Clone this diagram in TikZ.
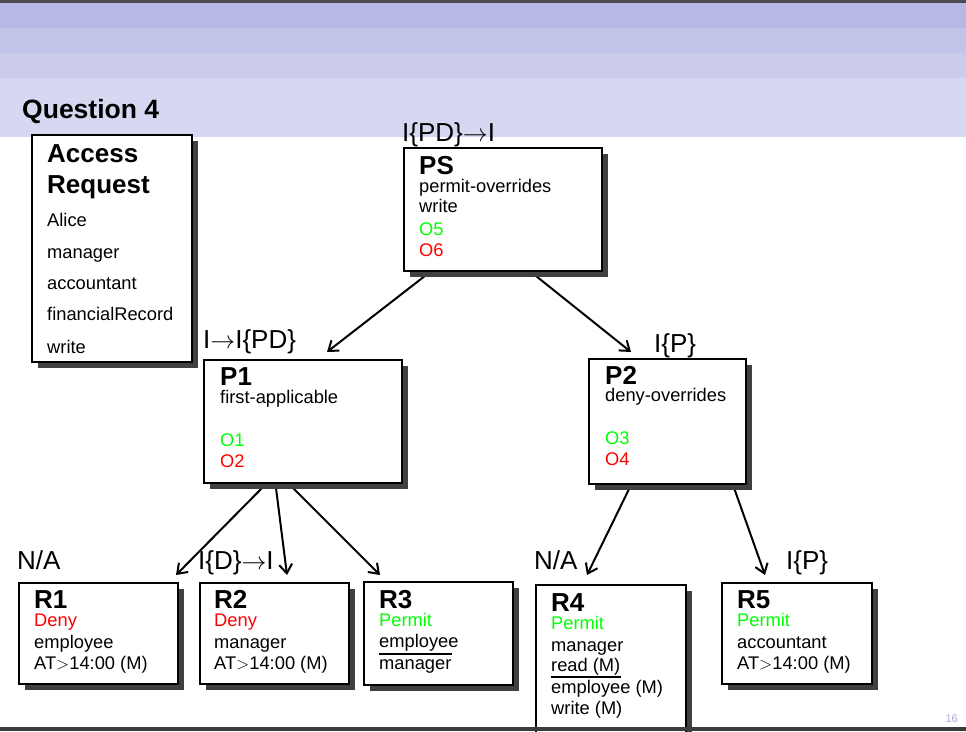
\documentclass[tikz,border=0pt]{standalone}
\usepackage{fontspec}
\setmainfont{Liberation Sans}
\usetikzlibrary{arrows.meta,shadows}
\definecolor{topbar}{HTML}{4A4A50}
\definecolor{botbar}{HTML}{3C3C3C}
\definecolor{bandA}{HTML}{B7B8E5}
\definecolor{bandB}{HTML}{C3C4E9}
\definecolor{bandC}{HTML}{CBCCEC}
\definecolor{bandD}{HTML}{D6D7F1}
\definecolor{shadowgray}{HTML}{404040}
\definecolor{okgreen}{HTML}{00FF00}
\definecolor{badred}{HTML}{FF0000}
\definecolor{pagenum}{HTML}{A8A8E0}
\pgfdeclarelayer{back}
\pgfdeclarelayer{arrows}
\pgfdeclarelayer{front}
\pgfsetlayers{back,arrows,main,front}
\begin{document}
\begin{tikzpicture}[x=1pt,y=-1pt,
  box/.style={draw=black, line width=2pt, fill=white, anchor=north west, inner sep=0pt,
    drop shadow={shadow xshift=6pt, shadow yshift=-6pt, fill=shadowgray, opacity=1}},
  txt/.style={anchor=base west, inner sep=0pt, font=\fontsize{18.3}{22}\selectfont},
  hd/.style={anchor=base west, inner sep=0pt, font=\fontsize{26}{30}\selectfont\bfseries},
  lbl/.style={anchor=base west, inner sep=0pt, font=\fontsize{26}{30}\selectfont},
  arr/.style={line width=2pt, -{Straight Barb[length=9pt,width=13pt]}},
  sepline/.style={line width=1.8pt}]
\useasboundingbox (0,0) rectangle (966,731);
\begin{pgfonlayer}{back}
\fill[white] (0,0) rectangle (966,731);
\fill[topbar] (0,0) rectangle (966,3);
\fill[bandA] (0,3) rectangle (966,28);
\fill[bandB] (0,28) rectangle (966,53);
\fill[bandC] (0,53) rectangle (966,78);
\fill[bandD] (0,78) rectangle (966,137);
\end{pgfonlayer}

\node[hd, font=\fontsize{26.5}{30}\selectfont\bfseries] (title) at (22,118) {Question 4};

% Access request
\node[box, minimum width=160pt, minimum height=227pt] (AR) at (31,134) {};
\node[hd] (AR1) at (47,162) {Access};
\node[hd] (AR2) at (47,193) {Request};
\node[txt] (AR3) at (47,226) {Alice};
\node[txt] (AR4) at (47,258) {manager};
\node[txt] (AR5) at (47,289) {accountant};
\node[txt] (AR6) at (47,320) {financialRecord};
\node[txt] (AR7) at (47,353) {write};

% PS
\node[box, minimum width=198pt, minimum height=123pt] (PS) at (403,147) {};
\node[lbl] (PSl) at (402,141) {I\{PD\}$\rightarrow$I};
\node[hd] (PS1) at (419,174) {PS};
\node[txt] (PS2) at (419,192) {permit-overrides};
\node[txt] (PS3) at (419,212) {write};
\node[txt, text=okgreen] (PS4) at (419,235) {O5};
\node[txt, text=badred] (PS5) at (419,256) {O6};

% P1
\node[box, minimum width=198pt, minimum height=123pt] (P1) at (203,359) {};
\node[lbl] (P1l) at (203,348) {I$\rightarrow$I\{PD\}};
\node[hd] (P11) at (220,385) {P1};
\node[txt] (P12) at (220,403) {first-applicable};
\node[txt, text=okgreen] (P13) at (220,446) {O1};
\node[txt, text=badred] (P14) at (220,467) {O2};

% P2
\node[box, minimum width=157pt, minimum height=125pt] (P2) at (588,358) {};
\node[lbl] (P2l) at (654,352) {I\{P\}};
\node[hd] (P21) at (605,384) {P2};
\node[txt] (P22) at (605,401) {deny-overrides};
\node[txt, text=okgreen] (P23) at (605,444) {O3};
\node[txt, text=badred] (P24) at (605,465) {O4};

% R1
\node[box, minimum width=159pt, minimum height=101pt] (R1) at (18,582) {};
\node[lbl] (R1l) at (17,569) {N/A};
\node[hd] (R11) at (34,608) {R1};
\node[txt, text=badred] (R12) at (34,626) {Deny};
\node[txt] (R13) at (34,648) {employee};
\node[txt] (R14) at (34,669) {AT$>$14:00 (M)};

% R2
\node[box, minimum width=149pt, minimum height=101pt] (R2) at (199,582) {};
\node[lbl] (R2l) at (198,569) {I\{D\}$\rightarrow$I};
\node[hd] (R21) at (214,608) {R2};
\node[txt, text=badred] (R22) at (214,626) {Deny};
\node[txt] (R23) at (214,648) {manager};
\node[txt] (R24) at (214,669) {AT$>$14:00 (M)};

% R3
\node[box, minimum width=149pt, minimum height=103pt] (R3) at (363,581) {};
\node[hd] (R31) at (379,608) {R3};
\node[txt, text=okgreen] (R32) at (379,626) {Permit};
\node[txt] (R33) at (379,647) {employee};
\node[txt] (R34) at (379,669) {manager};
\draw[sepline] ([yshift=15pt]R34.base west) -- ([yshift=15pt]R34.base east);

% R4
\node[box, minimum width=150pt, minimum height=156pt] (R4) at (535,584) {};
\node[lbl] (R4l) at (534,569) {N/A};
\node[hd] (R41) at (551,611) {R4};
\node[txt, text=okgreen] (R42) at (551,629) {Permit};
\node[txt] (R43) at (551,651) {manager};
\node[txt] (R44) at (551,671) {read (M)};
\node[txt] (R45) at (551,693) {employee (M)};
\node[txt] (R46) at (551,714) {write (M)};
\draw[sepline] ([yshift=-6pt]R44.base west) -- ([yshift=-6pt]R44.base east);

% R5
\node[box, minimum width=150pt, minimum height=101pt] (R5) at (721,582) {};
\node[lbl] (R5l) at (786,569) {I\{P\}};
\node[hd] (R51) at (737,608) {R5};
\node[txt, text=okgreen] (R52) at (737,626) {Permit};
\node[txt] (R53) at (737,648) {accountant};
\node[txt] (R54) at (737,669) {AT$>$14:00 (M)};

\node[anchor=base east, inner sep=0pt, text=pagenum, font=\fontsize{11}{13}\selectfont] (pg) at (958,722) {16};

\begin{pgfonlayer}{arrows}
\draw[arr] ([xshift=27pt]PS.south west) -- ([xshift=124pt,yshift=7pt]P1.north west);
\draw[arr] ([xshift=128pt]PS.south west) -- ([xshift=43pt,yshift=6pt]P2.north west);
\draw[arr] ([xshift=63pt]P1.south west) -- ([xshift=158pt,yshift=7pt]R1.north west);
\draw[arr] ([xshift=72.5pt]P1.south west) -- ([xshift=88pt,yshift=7pt]R2.north west);
\draw[arr] ([xshift=86pt]P1.south west) -- ([xshift=17pt,yshift=6pt]R3.north west);
\draw[arr] ([xshift=43pt]P2.south west) -- ([xshift=52pt,yshift=9pt]R4.north west);
\draw[arr] ([xshift=145pt]P2.south west) -- ([xshift=44pt,yshift=7pt]R5.north west);
\end{pgfonlayer}

\begin{pgfonlayer}{front}
\fill[botbar] (0,727) rectangle (966,731);
\end{pgfonlayer}
\end{tikzpicture}
\end{document}
